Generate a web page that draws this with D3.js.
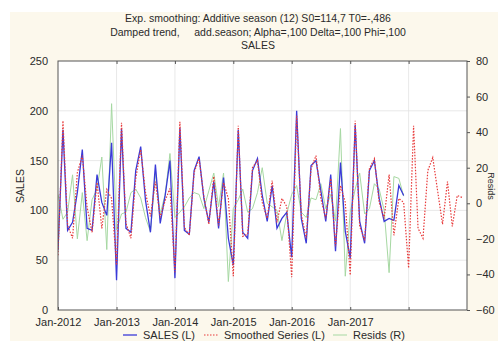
<!DOCTYPE html>
<html lang="en">
<head>
  <meta charset="UTF-8" />
  <script src="https://d3js.org/d3.v7.min.js"></script>
  <style>
    body { margin: 0; background: #fff; overflow: hidden; }
    svg { display: block; }
    text { font-family: "Liberation Sans", Arial, sans-serif; fill: #2a2a2a; }
  </style>
</head>
<body>
  <svg width="498" height="341"></svg>
  <script>
    // monthly data, Jan-2012 .. Dec-2017 (sales, resids); smoothed runs on to Dec-2018
    const sales = [
      60, 181, 80, 88, 118, 161, 82, 80, 136, 108, 95, 168,
      30, 182, 82, 78, 140, 164, 110, 78, 146, 87, 115, 150,
      32, 183, 80, 76, 140, 154, 112, 88, 129, 82, 133, 72,
      45, 181, 78, 72, 140, 152, 115, 89, 125, 82, 92, 98,
      53, 200, 92, 67, 145, 150, 120, 89, 136, 59, 148, 79,
      52, 186, 89, 67, 140, 150, 112, 89, 92, 90, 125, 115
    ];
    const smoothed = [
      55, 190, 85, 72, 138, 155, 103, 78, 128, 82, 121, 112,
      45, 188, 87, 72, 132, 161, 118, 94, 129, 93, 110, 122,
      38, 189, 83, 75, 138, 152, 114, 86, 134, 85, 128, 112,
      34, 185, 74, 76, 143, 150, 108, 92, 130, 88, 112, 104,
      33, 195, 96, 72, 142, 155, 112, 92, 132, 64, 125, 108,
      35, 190, 84, 70, 142, 152, 108, 92, 136, 75, 112, 108,
      42, 185, 82, 72, 140, 153, 120, 86, 129, 84, 115, 113
    ];
    const resids = [
      5, -9, -5, 16, -20, 6, -21, 2, 8, 26, -26, 56,
      -15, -6, -5, 6, 8, 3, -8, -16, 17, -6, 5, 28,
      -8, -5, -2, 3, 6, 5, -3, 7, 17, -2, 17, -44,
      -3, 2, 8, -5, -3, 6, 20, 0, -2, -4, -21, -6,
      5, 10, -5, -8, 3, 2, 11, -3, 5, -10, 42, -41,
      -5, 8, 17, -6, -3, 11, 8, -4, -39, 15, 14, 4
    ];
    const leftTicks = [0, 50, 100, 150, 200, 250];
    const rightTicks = [-60, -40, -20, 0, 20, 40, 60, 80];
    const yearTicks = [2012, 2013, 2014, 2015, 2016, 2017, 2018, 2019];
    const yearLabels = ["Jan-2012", "Jan-2013", "Jan-2014", "Jan-2015", "Jan-2016", "Jan-2017"];
    const titleLines = [
      "Exp. smoothing: Additive season (12) S0=114,7 T0=-,486",
      "Damped trend,     add.season; Alpha=,100 Delta=,100 Phi=,100",
      "SALES"
    ];

    const svg = d3.select("svg");
    const month = i => new Date(2012, i, 1);

    const pl = 58, pr = 467, pt = 61, pb = 310;

    const x = d3.scaleTime()
      .domain([new Date(2012, 0, 1), new Date(2019, 0, 1)])
      .range([pl, pr]);
    const yL = d3.scaleLinear().domain([0, 250]).range([pb, pt]);
    const yR = d3.scaleLinear().domain([-60, 80]).range([pb, pt]);

    // background panel
    svg.append("rect").attr("x", 10).attr("y", 12).attr("width", 488).attr("height", 329)
      .attr("fill", "#fcf8ec");
    svg.append("rect").attr("x", pl).attr("y", pt)
      .attr("width", pr - pl).attr("height", pb - pt).attr("fill", "#fff");

    // titles
    const titleY = [22, 36, 49];
    svg.selectAll(".title").data(titleLines).join("text")
      .attr("x", 258).attr("y", (d, i) => titleY[i])
      .attr("text-anchor", "middle").attr("font-size", 10.5)
      .style("white-space", "pre")
      .text(d => d);

    // grid
    const grid = svg.append("g").attr("stroke", "#e2e2e2").attr("stroke-width", 0.8);
    grid.selectAll(".gy").data(leftTicks.slice(1, -1)).join("line")
      .attr("x1", pl).attr("x2", pr)
      .attr("y1", d => yL(d)).attr("y2", d => yL(d));
    grid.selectAll(".gx").data(yearTicks.slice(1, -1)).join("line")
      .attr("y1", pt).attr("y2", pb)
      .attr("x1", d => x(new Date(d, 0, 1))).attr("x2", d => x(new Date(d, 0, 1)));

    // series
    svg.append("clipPath").attr("id", "clip").append("rect")
      .attr("x", pl).attr("y", pt).attr("width", pr - pl).attr("height", pb - pt);
    const plot = svg.append("g").attr("clip-path", "url(#clip)");

    const lineL = d3.line().x((d, i) => x(month(i))).y(d => yL(d));
    const lineR = d3.line().x((d, i) => x(month(i))).y(d => yR(d));

    plot.append("path").attr("d", lineR(resids))
      .attr("fill", "none").attr("stroke", "#a6d8a2").attr("stroke-width", 1);
    plot.append("path").attr("d", lineL(sales))
      .attr("fill", "none").attr("stroke", "#3a3ad8").attr("stroke-width", 1.3);
    plot.append("path").attr("d", lineL(smoothed))
      .attr("fill", "none").attr("stroke", "#e83a3a").attr("stroke-width", 1.2)
      .attr("stroke-dasharray", "1.5,1.5");

    // frame
    svg.append("rect").attr("x", pl).attr("y", pt)
      .attr("width", pr - pl).attr("height", pb - pt)
      .attr("fill", "none").attr("stroke", "#555").attr("stroke-width", 1);

    // axes
    const axL = svg.append("g").attr("transform", `translate(${pl},0)`)
      .call(d3.axisLeft(yL).tickValues(leftTicks).tickSize(0).tickPadding(10));
    const axR = svg.append("g").attr("transform", `translate(${pr},0)`)
      .call(d3.axisRight(yR).tickValues(rightTicks).tickSize(3).tickPadding(6));
    const axB = svg.append("g").attr("transform", `translate(0,${pb})`)
      .call(d3.axisBottom(x)
        .tickValues(yearTicks.slice(0, -1).map(d => new Date(d, 0, 1)))
        .tickSize(-3).tickPadding(8)
        .tickFormat((d, i) => yearLabels[i] || ""));
    const axT = svg.append("g").attr("transform", `translate(0,${pt})`)
      .call(d3.axisTop(x)
        .tickValues(yearTicks.slice(1, -1).map(d => new Date(d, 0, 1)))
        .tickSize(-3).tickFormat(""));
    [axL, axR, axB, axT].forEach(g => {
      g.select(".domain").remove();
      g.selectAll("line").attr("stroke", "#555");
      g.selectAll("text").attr("font-size", 11).attr("fill", "#2a2a2a")
        .attr("font-family", "Liberation Sans, Arial, sans-serif");
    });

    // axis titles
    svg.append("text").attr("transform", "translate(24,186) rotate(-90)")
      .attr("text-anchor", "middle").attr("font-size", 10.5).text("SALES");
    svg.append("text").attr("transform", "translate(488,186) rotate(90)")
      .attr("text-anchor", "middle").attr("font-size", 9).text("Resids");

    // legend
    const legend = [
      { label: "SALES (L)", color: "#3a3ad8", dash: null, w: 1.3, x: 123 },
      { label: "Smoothed Series (L)", color: "#e83a3a", dash: "1.5,1.5", w: 1.2, x: 204 },
      { label: "Resids (R)", color: "#a6d8a2", dash: null, w: 1, x: 333 }
    ];
    const lg = svg.selectAll(".lg").data(legend).join("g")
      .attr("transform", d => `translate(${d.x},335)`);
    lg.append("line").attr("x1", 0).attr("x2", 14).attr("y1", 0).attr("y2", 0)
      .attr("stroke", d => d.color).attr("stroke-width", d => d.w)
      .attr("stroke-dasharray", d => d.dash);
    lg.append("text").attr("x", 20).attr("y", 4).attr("font-size", 11).text(d => d.label);
  </script>
</body>
</html>
